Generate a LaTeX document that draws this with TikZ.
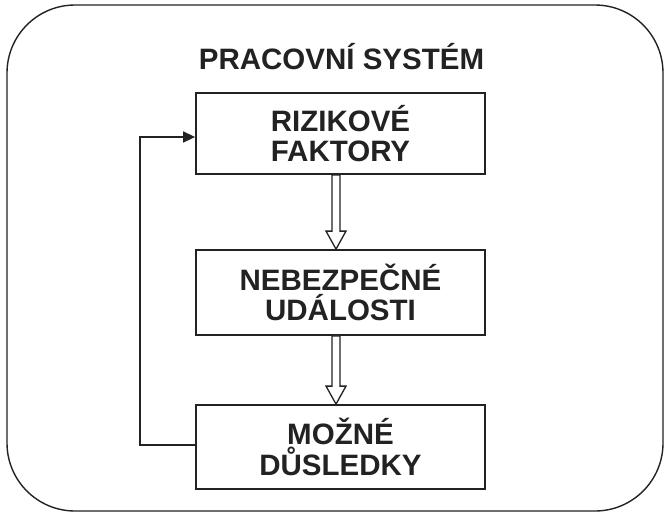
\documentclass[tikz,border=0pt]{standalone}
\usepackage{fontspec}
\setmainfont{Liberation Sans}
\usetikzlibrary{arrows.meta}
\definecolor{ink}{HTML}{222222}
\tikzset{
  frame/.style={draw=ink, line width=1.4pt, rounded corners=68pt},
  heading/.style={font=\bfseries\fontsize{29.5}{30.5}\selectfont, text=ink},
  stage/.style={draw=ink, line width=1.8pt, fill=white, minimum width=289pt,
    align=center, font=\bfseries\fontsize{29.5}{30.5}\selectfont, text=ink, inner sep=0pt},
  hollow/.style={draw=ink, line width=1.3pt, fill=white, line join=miter},
  loop/.style={draw=ink, line width=1.5pt, -{Triangle[length=12pt,width=11pt]}},
}
% downward hollow arrow from the bottom of #1 to the top of #2
\newcommand\hollowarrow[2]{%
  \draw[hollow] ([xshift=-8.5pt]#1.south) -- ([xshift=-8.5pt,yshift=18pt]#2.north)
    -- ([xshift=-14.5pt,yshift=18pt]#2.north) -- ([xshift=-4.5pt]#2.north)
    -- ([xshift=5.5pt,yshift=18pt]#2.north) -- ([xshift=-0.5pt,yshift=18pt]#2.north)
    -- ([xshift=-0.5pt]#1.south) -- cycle;}
\begin{document}
\begin{tikzpicture}[x=1pt,y=-1pt]
\useasboundingbox (0,0) rectangle (669,515);
\draw[frame] (7,5) rectangle (663,511);
\node[heading] (title) at (341.5,57) {PRACOVNÍ SYSTÉM};
\node[stage, minimum height=81pt] (risk) at (340.5,133.5) {RIZIKOVÉ\\FAKTORY};
\node[stage, minimum height=85pt] (event) at (340.5,292.5) {NEBEZPEČNÉ\\UDÁLOSTI};
\node[stage, minimum height=84pt] (cons) at (340.5,447) {MOŽNÉ\\DŮSLEDKY};
\hollowarrow{risk}{event}
\hollowarrow{event}{cons}
\draw[loop] ([yshift=2pt]cons.west) -- ++(-55,0) |- ([yshift=-3.5pt]risk.west);
\end{tikzpicture}
\end{document}
